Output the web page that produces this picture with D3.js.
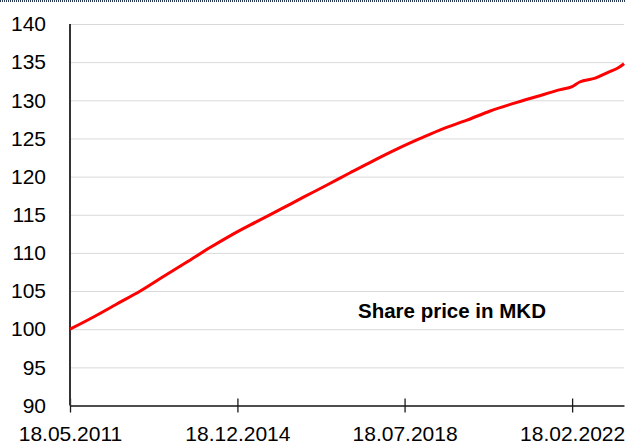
<!DOCTYPE html>
<html>
<head>
<meta charset="utf-8">
<script src="https://cdn.jsdelivr.net/npm/d3@7"></script>
<style>
  body { margin: 0; background: #fff; }
  svg { display: block; font-family: Arial, "Liberation Sans", sans-serif; }
</style>
</head>
<body>
<div id="chart"></div>
<script>

// share price data
var dates = ["2011-05-18", "2011-11-18", "2012-05-18", "2012-11-18", "2013-05-18", "2013-11-18",
  "2014-05-18", "2014-11-18", "2015-05-18", "2015-11-18", "2016-05-18", "2016-11-18",
  "2017-05-18", "2017-11-18", "2018-05-18", "2018-11-18", "2019-05-18", "2019-11-18",
  "2020-05-18", "2020-11-18", "2021-05-18", "2021-11-18", "2022-02-18", "2022-04-18",
  "2022-08-18", "2022-11-18", "2023-02-18", "2023-03-31"];
var prices = [100.0, 101.6, 103.3, 105.0, 106.9, 108.8,
  110.7, 112.5, 114.1, 115.7, 117.3, 118.9,
  120.5, 122.1, 123.6, 125.0, 126.3, 127.4,
  128.6, 129.6, 130.5, 131.4, 131.8, 132.4,
  132.9, 133.6, 134.3, 134.8];

var yTicks = [90, 95, 100, 105, 110, 115, 120, 125, 130, 135, 140];
var xTicks = ["2011-05-18", "2014-12-18", "2018-07-18", "2022-02-18"];
var seriesLabel = "Share price in MKD";

function createChart() {
  var width = 626, height = 445;
  var margin = {top: 24, right: 2, bottom: 39.5, left: 70};
  var visWidth = width - margin.left - margin.right;
  var visHeight = height - margin.top - margin.bottom;

  var parse = d3.utcParse("%Y-%m-%d");
  var fmt = d3.utcFormat("%d.%m.%Y");

  var data = dates.map((d, i) => ({date: parse(d), price: prices[i]}));

  var x = d3.scaleUtc()
    .domain([parse(dates[0]), parse(dates[dates.length - 1])])
    .range([0, visWidth]);

  var y = d3.scaleLinear()
    .domain([90, 140])
    .range([visHeight, 0]);

  var svg = d3.select("#chart").append("svg")
    .attr("width", width)
    .attr("height", height);

  // dotted frame edge at the top
  svg.append("line")
    .attr("x1", 0).attr("x2", width)
    .attr("y1", 1).attr("y2", 1)
    .attr("stroke", "#2b3a55")
    .attr("stroke-width", 2)
    .attr("stroke-dasharray", "1,1");

  var g = svg.append("g")
    .attr("transform", `translate(${margin.left}, ${margin.top})`);

  // y axis with grid lines
  g.append("g")
    .call(d3.axisLeft(y).tickValues(yTicks).tickSize(0).tickPadding(24))
    .call(g => g.select(".domain").remove())
    .call(g => g.selectAll(".tick text")
      .attr("fill", "#000")
      .attr("font-size", 21)
      .attr("font-family", "Arial, 'Liberation Sans', sans-serif"))
    .call(g => g.selectAll(".tick line")
      .clone()
        .attr("stroke", "#d9d9d9")
        .attr("x1", 0)
        .attr("x2", visWidth));

  // x axis
  g.append("g")
    .attr("transform", `translate(0, ${visHeight})`)
    .call(d3.axisBottom(x).tickValues(xTicks.map(parse)).tickFormat(fmt).tickSizeInner(7).tickSizeOuter(0).tickPadding(14))
    .call(g => g.select(".domain").attr("stroke", "#1a1a1a").attr("stroke-width", 1.5))
    .call(g => g.selectAll(".tick line")
      .attr("stroke", "#1a1a1a")
      .attr("stroke-width", 1.3)
      .attr("y1", -7))
    .call(g => g.selectAll(".tick text")
      .attr("fill", "#000")
      .attr("font-size", 21)
      .attr("font-family", "Arial, 'Liberation Sans', sans-serif"));

  // y axis line
  g.append("line")
    .attr("x1", 0).attr("x2", 0)
    .attr("y1", 0).attr("y2", visHeight)
    .attr("stroke", "#333")
    .attr("stroke-width", 2);

  // price line
  var line = d3.line()
    .x(d => x(d.date))
    .y(d => y(d.price))
    .curve(d3.curveMonotoneX);

  g.append("path")
    .datum(data)
    .attr("fill", "none")
    .attr("stroke", "#ff0000")
    .attr("stroke-width", 3)
    .attr("d", line);

  // series label
  g.append("text")
    .attr("x", 358 - margin.left)
    .attr("y", 318 - margin.top)
    .attr("font-size", 20.5)
    .attr("font-weight", "bold")
    .attr("fill", "#000")
    .text(seriesLabel);

  return svg.node();
}

window.onload = createChart;
</script>
</body>
</html>
